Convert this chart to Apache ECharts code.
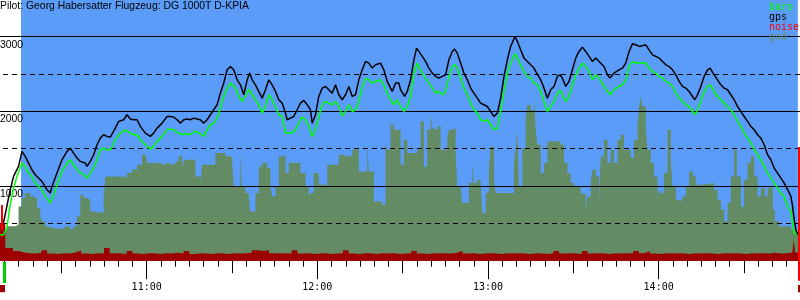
<!DOCTYPE html>
<html><head><meta charset="utf-8">
<script src="https://cdn.jsdelivr.net/npm/echarts@6/dist/echarts.min.js"></script>
<style>html,body{margin:0;padding:0;background:#fff}#c{width:800px;height:300px}</style>
</head><body><div id="c"></div>
<script>
// ---- text ----
const titleText = 'Pilot: Georg Habersatter Flugzeug: DG 1000T D-KPIA';
const legendNames = ['baro', 'gps', 'noise', 'gnd'];
const hourLabels = ['11:00', '12:00', '13:00', '14:00'];
const hourTicks = [60, 120, 180, 240];          // minutes after 10:00
const halfHourTicks = [30, 90, 150, 210, 270];
const fiveMinTicks = [5,10,15,20,25,35,40,45,50,55,65,70,75,80,85,95,100,105,110,115,125,130,135,140,145,155,160,165,170,175,185,190,195,200,205,215,220,225,230,235,245,250,255,260,265,275,280,285];

// ---- events (minutes after 10:00) ----
const takeoffTime = 9.84;
const engineMarkTime = 9.14;
const blueStart = 15.82;
const blueEnd = 288.95;
const landingTime = 289.1;

// ---- gps altitude (m) ----
const gpsTime = [9.68,12.04,13.20,14.96,16.16,17.32,18.48,19.67,20.84,22.00,23.19,24.95,26.11,26.71,28.47,30.23,31.99,33.15,34.31,35.51,36.67,38.43,39.03,40.19,41.35,42.55,43.71,44.87,46.06,47.23,48.99,50.15,51.91,53.10,54.26,55.42,56.62,57.78,59.54,61.30,62.46,63.66,65.42,67.18,68.34,69.50,70.70,71.86,73.02,74.21,75.37,76.54,77.73,78.89,
80.06,81.25,82.41,83.57,84.77,85.93,87.09,88.29,89.45,90.05,90.61,91.81,92.97,94.13,95.33,96.24,97.08,98.25,99.41,100.60,101.77,102.93,104.12,105.28,106.45,107.64,108.80,109.40,110.56,111.72,112.92,114.08,115.24,116.44,117.60,118.20,119.36,120.52,121.72,122.88,124.04,125.23,126.40,127.56,128.75,129.92,131.08,132.27,133.43,134.59,135.79,136.95,138.11,139.31,140.47,142.23,143.39,144.59,145.75,146.35,147.51,148.67,
149.27,150.68,151.62,152.79,153.95,154.90,155.71,156.90,158.06,159.22,160.42,161.58,162.74,163.94,165.10,166.26,167.46,168.27,169.22,170.38,171.54,172.74,173.90,175.06,176.26,177.42,178.58,179.77,180.94,182.10,183.30,184.46,185.62,186.81,187.97,189.49,190.33,191.49,192.65,193.85,195.01,196.17,196.77,197.37,198.53,199.69,200.88,202.05,203.21,204.40,205.32,206.16,207.32,208.49,209.68,210.84,212.01,213.20,214.36,215.53,216.72,217.88,219.05,
219.64,220.80,222.00,222.91,224.32,226.08,227.28,228.44,229.60,230.79,231.96,233.12,234.31,235.48,236.64,237.83,239.00,240.16,241.36,242.52,243.68,244.87,246.04,247.20,248.39,249.56,250.72,251.92,252.72,253.67,254.83,255.99,257.19,258.10,259.51,260.71,261.87,263.03,264.23,265.39,266.55,267.74,268.91,270.07,271.27,272.42,273.59,274.78,275.94,277.11,278.30,279.46,280.62,281.82,282.98,284.14,285.34,286.50,287.10,287.66,288.26,288.96];
const gpsAlt = [509,951,1129,1263,1464,1397,1308,1218,1151,1107,1062,951,906,995,1174,1352,1464,1508,1441,1375,1330,1308,1263,1330,1419,1553,1642,1687,1665,1656,1776,1866,1888,1955,1897,1888,1888,1799,1709,1665,1709,1776,1843,1932,1932,1923,1888,1843,1888,1897,1888,1910,1897,1888,
1843,1888,1955,2022,2089,2245,2379,2557,2602,2611,2557,2423,2356,2223,2423,2513,2423,2356,2267,2178,2289,2423,2356,2267,2156,2111,1977,1888,1910,1932,2022,2111,2147,2089,2022,1843,1955,2200,2312,2334,2289,2245,2356,2223,2156,2223,2334,2200,2223,2423,2557,2669,2647,2580,2624,2647,2557,2401,2312,2267,2379,2379,
2290,2200,2267,2423,2691,2847,2803,2736,2669,2580,2513,2468,2446,2468,2490,2691,2803,2834,2780,2647,2513,2423,2312,2245,2178,2111,2089,2066,1999,1932,1977,2178,2468,2691,2870,3004,2937,2825,2714,2669,2624,2580,2535,2557,2423,2312,2178,2290,2334,2468,2490,2446,2334,2401,2557,2714,2803,2861,2803,2736,2669,2714,2669,
2647,2602,2490,2446,2513,2557,2580,2647,2803,2905,2892,2870,2879,2892,2825,2758,2736,2714,2669,2624,2602,2557,2490,2401,2334,2312,2267,2200,2156,2223,2334,2468,2557,2580,2490,2423,2356,2312,2290,2223,2156,2066,1999,1932,1866,1799,1754,1687,1642,1553,1419,1352,1241,1174,1107,1040,951,861,727,549,415,348];

// ---- baro altitude (m) ----
const baroTime = [8.52,9.68,10.88,12.04,13.20,14.40,16.16,17.32,18.48,19.67,20.84,22.00,23.19,24.35,26.11,27.28,28.47,30.23,31.99,33.15,34.31,36.07,37.83,39.03,40.19,41.35,42.55,43.71,44.87,46.06,47.23,48.99,50.74,52.50,53.10,54.26,55.42,56.62,57.78,59.54,61.30,62.46,63.66,65.42,67.18,68.34,69.50,71.26,72.45,73.61,74.78,75.97,77.13,78.89,
80.06,81.25,82.41,83.57,84.77,85.93,87.09,88.29,89.45,90.05,91.21,92.37,93.56,94.73,95.89,97.08,98.25,99.41,100.60,101.77,102.93,104.12,105.28,106.45,107.64,108.80,109.40,111.16,112.32,113.48,114.68,115.84,117.00,118.20,119.36,120.52,121.72,122.88,124.04,125.23,126.40,127.56,128.75,129.92,131.08,132.27,133.43,134.59,135.79,136.95,138.11,139.31,140.47,142.23,143.39,144.59,145.75,146.91,148.11,149.27,
150.43,151.62,152.79,153.95,155.15,155.71,156.90,158.06,159.22,160.42,161.58,162.74,163.94,165.10,166.26,167.46,168.27,169.22,170.38,171.54,172.74,173.90,175.06,176.26,177.42,178.58,179.77,180.94,182.10,183.30,184.46,185.62,186.81,187.97,189.49,190.33,191.49,192.65,193.85,195.01,196.17,197.37,198.53,199.69,200.88,202.05,203.21,204.40,205.32,206.16,207.32,208.49,209.68,210.84,212.01,213.20,214.36,215.53,216.72,217.88,219.05,
219.64,220.80,222.00,222.91,224.32,226.08,227.28,228.44,229.60,230.79,231.96,234.31,235.48,236.64,237.83,239.00,240.16,241.36,242.52,243.68,244.87,246.04,247.20,248.39,249.56,250.72,251.92,252.72,253.67,254.83,255.99,257.19,258.10,259.51,260.71,261.87,263.03,264.23,265.39,266.55,267.74,268.91,270.07,271.27,272.42,273.59,274.78,275.94,277.11,278.30,279.46,280.62,281.82,282.98,284.14,285.34,286.50,287.10,287.66,288.26,288.96];
const baroAlt = [348,348,450,750,970,1129,1308,1263,1174,1129,1040,995,951,861,772,884,1018,1196,1308,1352,1285,1196,1151,1107,1174,1241,1352,1486,1508,1486,1486,1620,1709,1754,1776,1709,1687,1687,1620,1553,1495,1531,1598,1665,1754,1763,1754,1709,1687,1709,1687,1709,1732,1700,
1665,1754,1821,1843,1910,2044,2200,2312,2379,2401,2312,2200,2133,2200,2298,2223,2156,2089,1977,2066,2223,2156,2066,1955,1932,1709,1687,1709,1754,1843,1924,1888,1799,1665,1754,1932,2089,2133,2111,2089,2133,2066,1941,1999,2089,1999,2022,2133,2334,2446,2423,2379,2401,2423,2356,2245,2156,2089,2156,2066,
1999,2066,2200,2513,2647,2580,2513,2446,2379,2312,2245,2267,2223,2267,2468,2602,2624,2580,2446,2312,2223,2111,2022,1977,1888,1866,1888,1821,1754,1776,1999,2267,2513,2647,2771,2714,2624,2535,2468,2446,2379,2356,2267,2133,1999,2066,2133,2245,2281,2223,2133,2200,2356,2490,2580,2647,2602,2535,2423,2490,2446,
2423,2334,2267,2223,2290,2334,2356,2423,2602,2669,2647,2647,2647,2580,2535,2513,2468,2446,2401,2379,2334,2245,2178,2133,2089,2066,1999,1955,2022,2133,2267,2334,2356,2267,2200,2156,2111,2066,2022,1955,1866,1799,1709,1642,1575,1486,1419,1352,1263,1174,1107,1040,973,906,861,727,661,504,370,348,348];

// ---- ground elevation (m), stepped ----
const gndTime = [8.52,10.88,13.80,14.96,16.16,17.32,19.08,20.24,21.43,22.59,23.19,24.35,25.52,26.71,30.79,31.99,33.15,34.31,35.51,36.67,37.83,39.03,40.19,41.35,44.87,45.47,51.91,53.10,54.86,56.62,58.38,59.54,60.14,64.82,65.98,67.18,70.10,71.26,72.45,73.02,77.13,78.89,79.49,84.17,87.69,90.05,90.61,92.97,93.56,94.73,95.89,96.49,98.25,99.41,100.60,102.36,103.52,104.12,105.28,106.45,107.64,108.80,109.96,114.08,115.84,117.00,117.60,118.76,120.52,123.48,127.56,128.75,131.08,132.27,133.43,134.59,137.55,138.11,139.88,142.83,143.99,144.59,145.75,146.91,149.27,150.43,151.62,155.15,156.31,157.47,158.66,159.82,160.42,160.98,162.18,163.34,165.70,166.26,167.46,168.62,169.22,170.38,170.98,173.30,174.50,175.06,176.26,177.42,178.02,179.18,180.34,180.94,182.10,182.70,189.14,189.74,190.33,190.90,192.09,193.25,193.85,195.01,196.17,196.77,197.37,198.53,199.69,200.88,205.57,206.73,207.92,209.09,210.25,212.60,213.20,214.36,214.96,216.12,216.72,217.88,219.05,219.64,220.80,222.00,223.16,224.32,225.52,226.68,227.84,230.20,231.36,232.55,233.12,233.72,234.31,235.48,236.07,237.24,238.40,239.59,240.16,240.75,241.91,243.11,244.27,244.87,246.04,247.20,248.39,249.56,250.72,251.92,253.07,254.83,259.51,260.71,261.87,263.03,264.23,265.39,266.55,267.50,268.90,270.07,271.27,272.42,273.59,274.78,275.94,277.34,278.30,280.16,280.87,282.27,286.50,288.26,290.0];
const gndAlt = [415,460,482,727,839,906,861,839,705,594,527,460,437,424,451,460,424,460,594,884,839,817,660,638,861,1129,1107,1174,1218,1285,1419,1397,1308,1285,1308,1285,1330,1406,1241,1352,1129,1040,1285,1442,1397,1308,995,1442,995,906,861,660,906,1263,1308,1241,1017,861,995,1397,1419,1174,1308,1174,995,861,906,1174,1017,1285,1419,1397,1406,1486,1508,1196,1553,1196,794,750,1553,1486,1821,1754,1285,1620,1442,1486,1866,1263,1754,1955,1776,1754,1799,1486,1642,1754,1776,1442,995,951,772,1040,1330,1040,1085,1040,638,906,1241,1531,1085,906,1308,1508,1732,995,1508,1932,2089,2022,2223,1754,1553,1174,1308,1598,1553,1308,1174,1040,995,906,884,683,861,1062,1218,1129,727,1397,1620,1308,1486,1308,1620,1687,1486,1375,1620,1799,2066,2200,2066,1754,1486,1308,1129,884,951,906,1174,1754,1308,995,817,794,861,995,1196,1129,1017,1040,951,817,683,527,772,1129,1486,1129,727,1085,1308,1397,1129,861,977,861,977,683,527,460,415,348,348];

// ---- engine noise level (scaled to m), stepped ----
const noiseTime = [8.4,10.3,13,15,17,19,21,23,25,27,29,31,33,35,37,39,41,43,45,47,49,51,53,55,57,59,61,63,65,67,69,71,73,75,77,79,81,83,85,87,89,91,93,95,97,99,101,103,105,107,109,111,113,115,117,119,121,123,125,127,129,131,133,135,137,139,141,143,145,147,149,151,153,155,157,159,161,163,165,167,169,171,173,175,177,179,181,183,185,187,189,191,193,195,197,199,201,203,205,207,209,211,213,215,217,219,221,223,225,227,229,231,233,235,237,239,241,243,245,247,249,251,253,255,257,259,261,263,265,267,269,271,273,275,277,279,281,283,285,287,287.5,288,289.3];
const noiseVal = [510,170,130,110,100,95,105,140,95,90,
100,95,110,135,95,90,100,95,170,100,
95,90,130,95,90,100,95,90,100,95,
105,95,130,90,100,95,90,100,95,90,
100,95,100,105,140,130,140,100,95,100,
95,140,95,100,90,95,100,90,95,100,
140,95,90,100,95,90,100,95,100,90,
95,100,130,95,90,100,95,100,95,105,
130,95,100,90,95,100,95,90,100,95,
100,95,90,100,95,90,100,130,95,100,
95,90,130,95,100,95,90,100,95,100,
95,130,100,125,95,90,100,95,100,95,
90,100,95,100,95,90,100,95,100,95,
90,100,95,100,95,105,95,100,110,120,
280,110,110];

const pair = (t, v) => t.map((x, i) => [x, v[i]]);

const MONO = 'DejaVu Sans Mono';
const SANS = 'Liberation Sans';
const GRID_L = -24.0, GRID_R = -29.3, AXIS_BOTTOM = 39.3, Y_MAX = 3492;

const chart = echarts.init(document.getElementById('c'), null, {renderer: 'canvas', width: 800, height: 300});
const legendColors = {baro: '#00ff00', gps: '#000000', noise: '#ff0000', gnd: '#6b8e6b'};

function tickAxis(values, len, extra) {
  return Object.assign({
    gridIndex: 0, type: 'value', min: 0, max: 300, position: 'bottom', offset: 0, z: 4,
    axisLine: {show: false},
    axisTick: {show: true, length: len, customValues: values, lineStyle: {color: '#000', width: 1}},
    axisLabel: {show: false}, splitLine: {show: false}
  }, extra || {});
}

chart.setOption({
  animation: false,
  backgroundColor: '#ffffff',
  title: {
    text: titleText, left: 0, top: 1.5, padding: 0, z: 10,
    textStyle: {fontSize: 10.4, fontWeight: 'normal', fontFamily: SANS, color: '#000'}
  },
  legend: {
    orient: 'vertical', left: 764, top: 2.5, padding: 0, itemGap: 0,
    itemWidth: 0, itemHeight: 0, selectedMode: false, z: 10,
    textStyle: {fontSize: 10, fontFamily: MONO, lineHeight: 10},
    data: legendNames.map(n => ({name: n, icon: 'rect', itemStyle: {opacity: 0}, textStyle: {color: legendColors[n]}}))
  },
  grid: [
    {left: GRID_L, right: GRID_R, top: 0, bottom: AXIS_BOTTOM, containLabel: false, outerBoundsMode: 'none'},
    {left: GRID_L, right: GRID_R, top: 300 - AXIS_BOTTOM, bottom: 0, containLabel: false, outerBoundsMode: 'none'}
  ],
  xAxis: [
    tickAxis(fiveMinTicks, 6, {axisLine: {show: true, lineStyle: {color: '#9c0000', width: 1}}}),
    tickAxis(halfHourTicks, 12.5),
    tickAxis(hourTicks, 18.5, {
      axisLabel: {show: true, customValues: hourTicks, margin: 21.5, fontSize: 10, fontFamily: MONO, color: '#000',
        formatter: v => hourLabels[hourTicks.indexOf(v)] || ''}
    }),
    {gridIndex: 1, type: 'value', min: 0, max: 300, show: false}
  ],
  yAxis: [
    {gridIndex: 0, type: 'value', min: 0, max: Y_MAX, interval: 1000, z: 3,
      axisLine: {show: false}, axisTick: {show: false},
      axisLabel: {show: true, inside: true, margin: 24, verticalAlign: 'top', padding: [3, 0, 0, 0], fontSize: 10.4, fontFamily: SANS, color: '#000',
        formatter: v => (v > 0 && v % 1000 === 0) ? String(v) : ''},
      splitLine: {show: true, showMinLine: false, showMaxLine: false, lineStyle: {color: '#000', width: 1, type: 'solid'}}},
    {gridIndex: 0, type: 'value', min: 0, max: Y_MAX, interval: 500, z: 3,
      axisLine: {show: false}, axisTick: {show: false}, axisLabel: {show: false},
      splitLine: {show: true, showMinLine: false, showMaxLine: false, lineStyle: {color: '#000', width: 1, type: [5, 4]}}},
    {gridIndex: 1, type: 'value', min: 0, max: AXIS_BOTTOM, inverse: true, show: false}
  ],
  series: [
    {name: 'sky', type: 'line', xAxisIndex: 0, yAxisIndex: 0, data: [], z: 1, silent: true,
      markArea: {silent: true, z: 1, itemStyle: {color: '#5a9cf8'}, data: [[{xAxis: blueStart}, {xAxis: blueEnd}]]}},
    {name: 'gnd', type: 'line', xAxisIndex: 0, yAxisIndex: 0, step: 'end', symbol: 'none', z: 2, silent: true,
      lineStyle: {width: 0, opacity: 0}, itemStyle: {color: '#648c64'},
      areaStyle: {color: '#648c64', opacity: 1}, data: pair(gndTime, gndAlt)},
    {name: 'noise', type: 'line', xAxisIndex: 0, yAxisIndex: 0, step: 'end', symbol: 'none', z: 2.5, silent: true,
      lineStyle: {width: 0, opacity: 0}, itemStyle: {color: '#9c0000'},
      areaStyle: {color: '#9c0000', opacity: 1}, data: pair(noiseTime, noiseVal)},
    {name: 'baro', type: 'line', xAxisIndex: 0, yAxisIndex: 0, symbol: 'none', z: 5, silent: true,
      lineStyle: {color: '#00ff00', width: 1.5}, itemStyle: {color: '#00ff00'}, data: pair(baroTime, baroAlt)},
    {name: 'gps', type: 'line', xAxisIndex: 0, yAxisIndex: 0, symbol: 'none', z: 6, silent: true,
      lineStyle: {color: '#000000', width: 1.5}, itemStyle: {color: '#000000'}, data: pair(gpsTime, gpsAlt),
      markLine: {silent: true, symbol: 'none', z: 7, label: {show: false},
        data: [
          [{coord: [landingTime, 0], lineStyle: {color: '#ff0000', width: 2, type: 'solid'}}, {coord: [landingTime, 1523]}],
          [{coord: [engineMarkTime, 410], lineStyle: {color: '#ff0000', width: 2, type: 'solid'}}, {coord: [engineMarkTime, 745]}]
        ]}},
    {name: 'marks', type: 'line', xAxisIndex: 3, yAxisIndex: 2, data: [], silent: true, z: 7,
      markLine: {silent: true, symbol: 'none', z: 7, label: {show: false},
        data: [
          [{coord: [takeoffTime, 1.3], lineStyle: {color: '#00cc00', width: 3, type: 'solid'}}, {coord: [takeoffTime, 22.3]}],
          [{coord: [landingTime, 0], lineStyle: {color: '#ff0000', width: 2, type: 'solid'}}, {coord: [landingTime, 20]}]
        ]},
      markArea: {silent: true, z: 7, itemStyle: {color: '#9c0000'},
        data: [
          [{coord: [8.3, 24.3]}, {coord: [10.2, 31.5]}],
          [{coord: [289.0, 24.3]}, {coord: [289.8, 31.5]}]
        ]}}
  ]
});
</script>
</body></html>
